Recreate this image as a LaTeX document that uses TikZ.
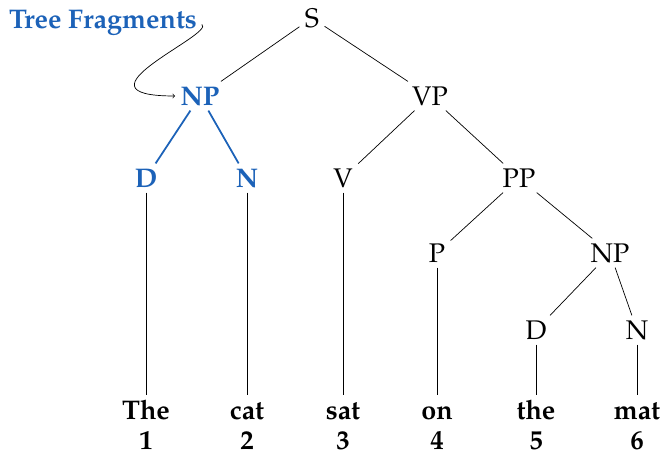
\documentclass[tikz,border=0pt]{standalone}
\usepackage[T1]{fontenc}
\usepackage{mathpazo}
\definecolor{fragblue}{RGB}{28,98,184}
\begin{document}
\begin{tikzpicture}[x=0.03cm,y=-0.03cm,
  every node/.style={font=\fontsize{23}{27}\selectfont, inner sep=4.5pt, text height=15.5pt, text depth=0pt},
  frag/.style={text=fragblue, font=\fontsize{23}{27}\selectfont\bfseries},
  word/.style={font=\fontsize{23}{27}\selectfont\bfseries},
  branch/.style={line width=0.6pt},
  fragbranch/.style={draw=fragblue, line width=1.5pt}]
\useasboundingbox (0,0) rectangle (667,457);

% label
\node[frag, text depth=5pt, inner sep=2pt] (tf) at (103,22) {Tree Fragments};

% internal nodes
\node (s)   at (312,18)  {S};
\node[frag] (np1) at (200,96) {NP};
\node (vp)  at (430,96)  {VP};
\node[frag] (d1)  at (146,178) {D};
\node[frag] (n1)  at (247,178) {N};
\node (v)   at (343,178) {V};
\node (pp)  at (519,178) {PP};
\node (p)   at (437,253) {P};
\node (np2) at (610,253) {NP};
\node (d2)  at (536,330) {D};
\node (n2)  at (637,330) {N};

% words and positions
\node[word] (w1) at (146,410) {The};
\node[word] (w2) at (247,410) {cat};
\node[word] (w3) at (343,410) {sat};
\node[word] (w4) at (437,410) {on};
\node[word] (w5) at (536,410) {the};
\node[word] (w6) at (637,410) {mat};
\node[word] (i1) at (146,440) {1};
\node[word] (i2) at (247,440) {2};
\node[word] (i3) at (343,440) {3};
\node[word] (i4) at (437,440) {4};
\node[word] (i5) at (536,440) {5};
\node[word] (i6) at (637,440) {6};

% branches
\draw[branch] (s) -- (np1);
\draw[branch] (s) -- (vp);
\draw[fragbranch] (np1) -- (d1);
\draw[fragbranch] (np1) -- (n1);
\draw[branch] (vp) -- (v);
\draw[branch] (vp) -- (pp);
\draw[branch] (pp) -- (p);
\draw[branch] (pp) -- (np2);
\draw[branch] (np2) -- (d2);
\draw[branch] (np2) -- (n2);
\draw[branch] (d1) -- (w1);
\draw[branch] (n1) -- (w2);
\draw[branch] (v) -- (w3);
\draw[branch] (p) -- (w4);
\draw[branch] (d2) -- (w5);
\draw[branch] (n2) -- (w6);

% pointer from the label to the fragment
\draw[branch, ->] ([xshift=2pt,yshift=-2pt]tf.east) .. controls +(14,10) and +(-110,0) .. (np1.west);
\end{tikzpicture}
\end{document}
